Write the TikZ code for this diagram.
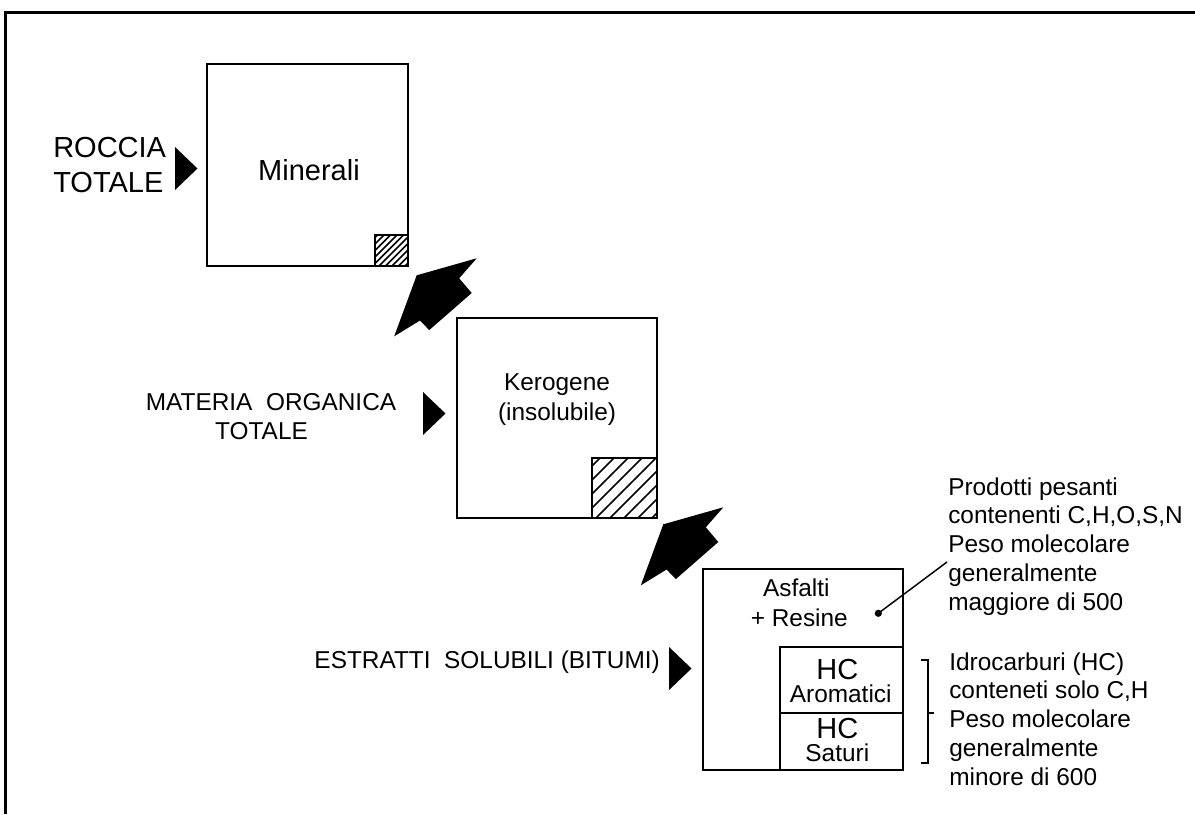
\documentclass[tikz,border=0pt]{standalone}
\usepackage{fontspec}
\setmainfont{Liberation Sans}
\usetikzlibrary{fit}
\begin{document}
\begin{tikzpicture}[x=0.75pt,y=-0.75pt,
  box/.style={draw, line width=1.5pt, inner sep=0pt},
  big/.style={font=\fontsize{21.75pt}{26pt}\selectfont, inner sep=0pt},
  mid/.style={font=\fontsize{18.3pt}{22pt}\selectfont, inner sep=0pt},
  note/.style={font=\fontsize{18.3pt}{21.56pt}\selectfont, align=left, inner sep=0pt, anchor=north west},
  hatchline/.style={line width=1.1pt},
  frameline/.style={line width=2.25pt},
  leader/.style={line width=1.1pt},
  bracketline/.style={line width=1.5pt},
  pointer/.pic={\fill (0,0) -- (0,43) -- (22.5,21.5) -- cycle;},
  bigarrow/.pic={\fill (0,0) -- (-17.5,20) -- (-5,34.7) -- (-47.5,71.8) -- (-56.7,62.2) -- (-82.5,78) -- (-60,17) -- cycle;}
]
\useasboundingbox (0,0) rectangle (1195,814);
\fill[white] (0,0) rectangle (1195,814);

% frame
\draw[frameline] (1195,12) -- (5,12) -- (5,814);

% ---- box 1: Minerali
\coordinate (m1) at (207,64); \coordinate (m2) at (408,266);
\node[box, fit=(m1)(m2)] (minerali) {};
\begin{scope}
  \clip (375,235) rectangle (408,266);
  \foreach \s in {-35,-28.5,...,36} \draw[hatchline] (375+\s,266) -- (375+\s+40,226);
\end{scope}
\coordinate (h1a) at (375,235); \coordinate (h1b) at (408,266);
\node[box, fit=(h1a)(h1b)] (hatch1) {};
\node[big, anchor=base] (mintext) at (309,180.7) {Minerali};

\node[big, anchor=base west] (roccia) at (53,157.3) {ROCCIA};
\node[big, anchor=base west] (totale1) at (53,192.7) {TOTALE};
\pic at (175,147) {pointer};

% arrow 1
\pic at (476.7,258.3) {bigarrow};

% ---- box 2: Kerogene
\coordinate (k1) at (457,318); \coordinate (k2) at (657,518);
\node[box, fit=(k1)(k2)] (kerogene) {};
\begin{scope}
  \clip (592,458) rectangle (657,518);
  \foreach \s in {-66,-52,...,70} \draw[hatchline] (592+\s,518) -- (592+\s+70,448);
\end{scope}
\coordinate (h2a) at (592,458); \coordinate (h2b) at (657,518);
\node[box, fit=(h2a)(h2b)] (hatch2) {};
\node[mid, anchor=base] (kertext) at (557,390) {Kerogene};
\node[mid, anchor=base] (instext) at (557,420) {(insolubile)};

\node[mid, anchor=base] (materia) at (271,410) {MATERIA\ \ ORGANICA};
\node[mid, anchor=base] (totale2) at (261.5,439.3) {TOTALE};
\pic at (423,392) {pointer};

% arrow 2
\pic at (723.3,507.3) {bigarrow};

% ---- box 3: bitumi
\coordinate (b1) at (703,569); \coordinate (b2) at (903,770);
\node[box, fit=(b1)(b2)] (bitumi) {};
\coordinate (a1) at (780,647); \coordinate (a2) at (903,712.5);
\node[box, fit=(a1)(a2)] (aromatici) {};
\coordinate (s1) at (780,712.5); \coordinate (s2) at (903,770);
\node[box, fit=(s1)(s2)] (saturi) {};

\node[mid, anchor=base] (asfalti) at (796.3,596.7) {Asfalti};
\node[mid, anchor=base] (resine) at (799.3,626.7) {+ Resine};
\node[big, anchor=base] (hc1) at (837.3,679.3) {HC};
\node[mid, anchor=base] (arotext) at (840.7,702.7) {Aromatici};
\node[big, anchor=base] (hc2) at (837.3,738.3) {HC};
\node[mid, anchor=base] (sattext) at (837.3,761.7) {Saturi};

\node[mid, anchor=base east] (estratti) at (660,668) {ESTRATTI\ \ SOLUBILI (BITUMI)};
\pic at (669,647) {pointer};

% notes
\node[note] (note1) at (948,477.2) {Prodotti pesanti\\contenenti C,H,O,S,N\\Peso molecolare\\generalmente\\maggiore di 500};
\node[note] (note2) at (949,652.2) {Idrocarburi (HC)\\conteneti solo C,H\\Peso molecolare\\generalmente\\minore di 600};

% leader with dot
\coordinate (dot) at (878.3,613.3);
\coordinate (leadend) at (947,562);
\fill (dot) circle (3.6);
\draw[leader] (dot) -- (leadend);

% bracket
\coordinate (brtop) at (921,660);
\coordinate (brbot) at (921,763.3);
\coordinate (brmid) at (934,712.5);
\draw[bracketline] (brtop) -- (927.7,660) -- (927.7,763.3) -- (brbot);
\draw[bracketline] (927.7,712.5) -- (brmid);
\end{tikzpicture}
\end{document}
